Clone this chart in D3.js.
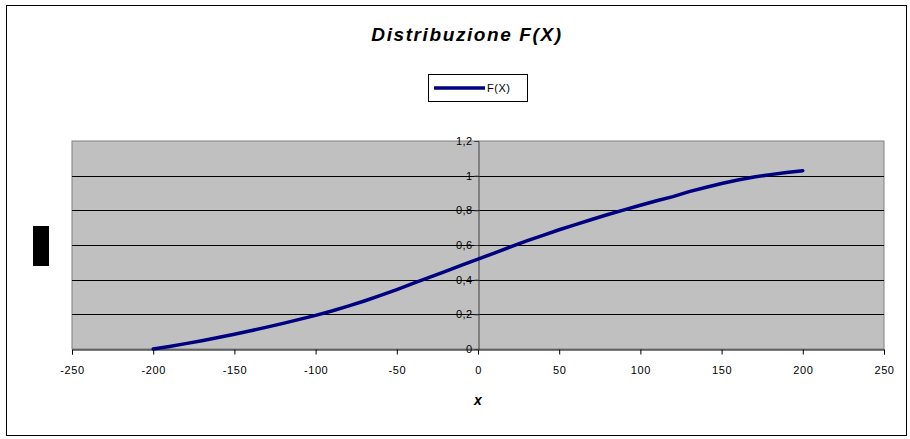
<!DOCTYPE html>
<html><head><meta charset="utf-8">
<script src="https://cdn.jsdelivr.net/npm/d3@7"></script>
<style>body{margin:0;background:#fff}svg{display:block;font-family:"Liberation Sans",Arial,sans-serif}</style>
</head><body><svg id="c" width="910" height="439"></svg>
<script>
const xValues = [-200,-190,-180,-170,-160,-150,-140,-130,-120,-110,-100,-90,-80,-70,-60,-50,-40,-30,-20,-10,0,10,20,30,40,50,60,70,80,90,100,110,120,130,140,150,160,170,180,190,200];
const fValues = [0.000,0.015,0.031,0.048,0.066,0.085,0.105,0.126,0.148,0.171,0.194,0.219,0.247,0.277,0.309,0.343,0.378,0.413,0.448,0.484,0.519,0.553,0.589,0.624,0.656,0.688,0.718,0.747,0.776,0.803,0.829,0.855,0.879,0.908,0.932,0.955,0.975,0.992,1.006,1.018,1.029];
const xTicks = [-250,-200,-150,-100,-50,0,50,100,150,200,250];
const yTicks = [0,0.2,0.4,0.6,0.8,1,1.2];
const title = "Distribuzione F(X)";
const seriesName = "F(X)";
const xTitle = "x";

const svg = d3.select("#c");
const L = 72, R = 884, T = 141, B = 349;
const x = d3.scaleLinear().domain([-250,250]).range([L,R]);
const y = d3.scaleLinear().domain([0,1.2]).range([B,T]);
const fmt = v => String(+v.toFixed(1)).replace(".", ",");

// outer frame
svg.append("rect").attr("x",6.5).attr("y",5.5).attr("width",900).attr("height",430)
  .attr("fill","#fff").attr("stroke","#000").attr("stroke-width",1);

// title
svg.append("text").attr("x",467).attr("y",41).attr("text-anchor","middle")
  .attr("font-size",19).attr("font-weight","bold").attr("font-style","italic")
  .attr("letter-spacing","1.6px").text(title);

// legend
const lg = svg.append("g");
lg.append("rect").attr("x",428.5).attr("y",74.5).attr("width",99).attr("height",27)
  .attr("fill","#fff").attr("stroke","#000");
lg.append("line").attr("x1",434).attr("x2",485).attr("y1",88).attr("y2",88)
  .attr("stroke","#000080").attr("stroke-width",3.5);
lg.append("text").attr("x",487).attr("y",92).attr("font-size",11).attr("letter-spacing","0.5px").text(seriesName);

// plot area
svg.append("rect").attr("x",L).attr("y",T).attr("width",R-L).attr("height",B-T)
  .attr("fill","#c0c0c0").attr("stroke","#808080");

// gridlines
svg.append("g").selectAll("line").data(yTicks.filter(d=>d>0 && d<1.2)).join("line")
  .attr("x1",L).attr("x2",R).attr("y1",d=>Math.round(y(d))+0.5).attr("y2",d=>Math.round(y(d))+0.5)
  .attr("stroke","#000");

// x axis
const xa = svg.append("g").attr("transform",`translate(0,${B+0.5})`)
  .call(d3.axisBottom(x).tickValues(xTicks).tickSize(5).tickPadding(12).tickFormat(d=>d));
xa.select(".domain").attr("stroke","#000");
xa.selectAll("text").attr("font-size",11).attr("fill","#000").attr("letter-spacing","0.6px")
  .attr("font-family","Liberation Sans, Arial, sans-serif");

// y axis at x=0
const ya = svg.append("g").attr("transform",`translate(${Math.round(x(0))+0.5},0)`)
  .call(d3.axisLeft(y).tickValues(yTicks).tickSize(4).tickPadding(2).tickFormat(fmt));
ya.select(".domain").attr("stroke","#404040");
ya.selectAll("line").attr("stroke","#404040");
ya.selectAll("text").attr("font-size",11).attr("fill","#000").attr("letter-spacing","0.4px")
  .attr("font-family","Liberation Sans, Arial, sans-serif");

// x title
svg.append("text").attr("x",x(0)).attr("y",405).attr("text-anchor","middle")
  .attr("font-size",14).attr("font-weight","bold").attr("font-style","italic").text(xTitle);

// y title block (rendered as black block in reference)
svg.append("rect").attr("x",33).attr("y",226).attr("width",16).attr("height",40).attr("fill","#000");

// curve
const data = xValues.map((v,i)=>({x:v,y:fValues[i]}));
svg.append("path").datum(data)
  .attr("d", d3.line().x(d=>x(d.x)).y(d=>y(d.y)))
  .attr("fill","none").attr("stroke","#000080").attr("stroke-width",3.5)
  .attr("stroke-linejoin","round").attr("stroke-linecap","round");
</script></body></html>
